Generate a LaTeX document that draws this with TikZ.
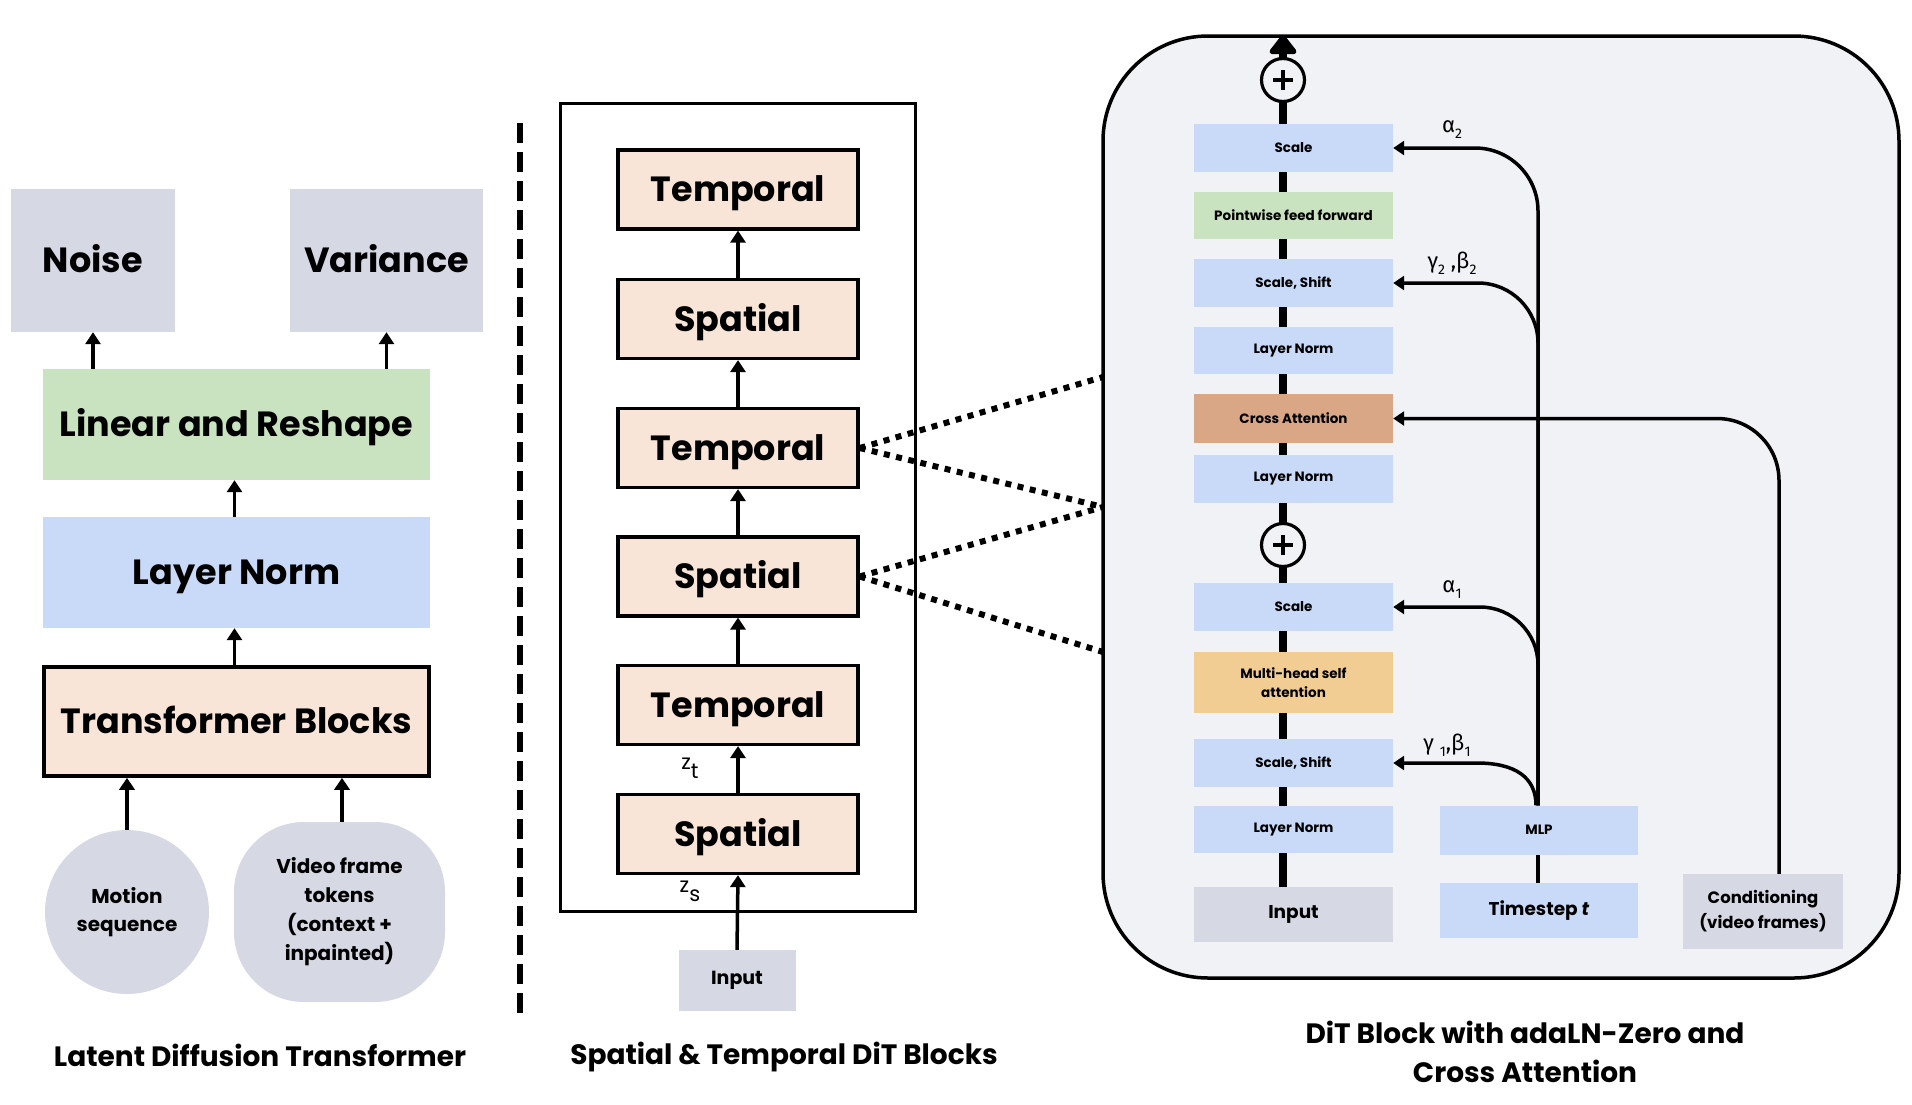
\documentclass[tikz,border=0pt]{standalone}
\usepackage{fontspec}
\setmainfont{Poppins}
\newfontfamily\grk{Fira Sans}
\usetikzlibrary{arrows.meta}
\definecolor{cgray}{HTML}{D6D8E4}
\definecolor{cgreen}{HTML}{C9E2C0}
\definecolor{cblue}{HTML}{C9DAF8}
\definecolor{cpeach}{HTML}{F8E5D8}
\definecolor{ccross}{HTML}{D9A686}
\definecolor{cmhsa}{HTML}{F2CD93}
\definecolor{cbg}{HTML}{F1F2F6}
\pgfdeclarelayer{bglayer}
\pgfdeclarelayer{linelayer}
\pgfsetlayers{bglayer,linelayer,main}
\newcommand{\fs}[1]{\fontsize{#1}{#1}\selectfont}
\tikzset{
  blk/.style={rectangle, inner sep=0pt, align=center, font=\bfseries},
  bigtxt/.style={font=\fontsize{35}{42}\selectfont\bfseries, text height=24.5pt, text depth=0pt},
  midblk/.style={blk, draw, line width=3.2pt, fill=cpeach, minimum width=240pt, minimum height=79pt, font=\fontsize{35}{42}\selectfont\bfseries, text height=24.5pt, text depth=0pt},
  rblk/.style={blk, minimum width=199pt, minimum height=48pt, font=\fontsize{13.5}{19}\selectfont\bfseries},
  arr/.style={-{Triangle[width=15pt,length=12pt]}, line width=3.5pt},
  fb/.style={-{Triangle[width=14pt,length=11pt]}, line width=3.5pt},
  dotline/.style={line width=6pt, dash pattern=on 6pt off 6.5pt},
  sepline/.style={line width=6pt, dash pattern=on 20pt off 9pt},
  ttl/.style={align=center, font=\fontsize{28}{39}\selectfont\bfseries},
  pluscirc/.style={circle, draw, line width=3.2pt, fill=cbg, minimum size=43pt, inner sep=0pt},
}
\begin{document}
\begin{tikzpicture}[x=1pt,y=-1pt]
\useasboundingbox (0,0) rectangle (1912,1104);

% ---------------- left panel
\node[blk, fill=cgray, minimum width=164pt, minimum height=143pt, bigtxt] (noise) at (93,260.5) {Noise};
\node[blk, fill=cgray, minimum width=193pt, minimum height=143pt, bigtxt] (var) at (386.5,260.5) {Variance};
\node[blk, fill=cgreen, minimum width=387pt, minimum height=111pt, bigtxt] (lr) at (236.5,424.5) {Linear and Reshape};
\node[blk, fill=cblue, minimum width=387pt, minimum height=111pt, bigtxt] (lnL) at (236.5,572.5) {Layer Norm};
\node[blk, draw, line width=3.5pt, fill=cpeach, minimum width=385pt, minimum height=109pt, bigtxt] (tb) at (236.5,721.5) {Transformer Blocks};
\node[circle, fill=cgray, minimum size=164pt, inner sep=0pt, align=center, font=\fontsize{20}{28}\selectfont\bfseries] (motion) at (127,912) {Motion\\sequence};
\node[rectangle, rounded corners=70pt, fill=cgray, minimum width=211pt, minimum height=180pt, inner sep=0pt, align=center, font=\fontsize{20}{29}\selectfont\bfseries] (video) at (339.5,912) {Video frame\\tokens\\(context +\\inpainted)};

\draw[arr] (noise.south |- lr.north) -- (noise.south);
\draw[arr] (var.south |- lr.north) -- (var.south);
\draw[arr] ([xshift=-2pt]lnL.north) -- ([xshift=-2pt]lr.south);
\draw[arr] ([xshift=-2pt]tb.north) -- ([xshift=-2pt]lnL.south);
\draw[arr] (motion.north) -- (motion.north |- tb.south);
\draw[arr] ([xshift=2.5pt]video.north) -- ([xshift=2.5pt]video.north |- tb.south);

\node[ttl] (t1) at (260,1055) {Latent Diffusion Transformer};

\draw[sepline] (520,123) -- (520,1017);

% ---------------- middle panel
\node[draw, line width=3pt, minimum width=355pt, minimum height=808pt, inner sep=0pt] (outer) at (737.5,507) {};
\node[midblk] (mt1) at (738,189.5) {Temporal};
\node[midblk] (ms1) at (738,319) {Spatial};
\node[midblk] (mt2) at (738,448) {Temporal};
\node[midblk] (ms2) at (738,576.5) {Spatial};
\node[midblk] (mt3) at (738,705) {Temporal};
\node[midblk] (ms3) at (738,834) {Spatial};
\node[blk, fill=cgray, minimum width=117pt, minimum height=61pt, font=\fontsize{19}{22}\selectfont\bfseries] (inM) at (737,980.5) {Input};

\draw[arr] (inM.north) -- (ms3.south);
\draw[arr] (ms3.north) -- (mt3.south);
\draw[arr] (mt3.north) -- (ms2.south);
\draw[arr] (ms2.north) -- (mt2.south);
\draw[arr] (mt2.north) -- (ms1.south);
\draw[arr] (ms1.north) -- (mt1.south);

\node[font=\fs{21}] (zt) at (690,768) {z\raisebox{-9pt}{t}};
\node[font=\fs{21}] (zs) at (690,891) {z\raisebox{-9pt}{s}};

\node[ttl] (t2) at (784,1057) {Spatial \& Temporal DiT Blocks};

% ---------------- right panel
\begin{pgfonlayer}{bglayer}
\node[draw, line width=3.5pt, fill=cbg, rounded corners=105pt, minimum width=796pt, minimum height=942pt, inner sep=0pt] (dit) at (1501,507) {};
\end{pgfonlayer}

\coordinate (d1) at (1103,377);
\coordinate (d2) at (1103,507);
\coordinate (d3) at (1103,652);
\begin{pgfonlayer}{linelayer}
\draw[dotline] (mt2.east) -- (d1);
\draw[dotline] (mt2.east) -- (d2);
\draw[dotline] (ms2.east) -- (d2);
\draw[dotline] (ms2.east) -- (d3);
\end{pgfonlayer}

\node[rblk, fill=cblue] (sc2) at (1293.5,148) {Scale};
\node[rblk, fill=cgreen, minimum height=47pt] (pff) at (1293.5,215.5) {Pointwise feed forward};
\node[rblk, fill=cblue] (ss2) at (1293.5,283) {Scale, Shift};
\node[rblk, fill=cblue, minimum height=47pt] (ln3) at (1293.5,350.5) {Layer Norm};
\node[rblk, fill=ccross, minimum height=49pt] (ca) at (1293.5,418.5) {Cross Attention};
\node[rblk, fill=cblue] (ln2) at (1293.5,479) {Layer Norm};
\node[pluscirc] (p1) at (1283,545) {};
\node[rblk, fill=cblue] (sc1) at (1293.5,607) {Scale};
\node[rblk, fill=cmhsa, minimum height=61pt] (mhsa) at (1293.5,682.5) {Multi-head self\\attention};
\node[rblk, fill=cblue] (ss1) at (1293.5,763) {Scale, Shift};
\node[rblk, fill=cblue, minimum height=47pt] (ln1) at (1293.5,829.5) {Layer Norm};
\node[rblk, fill=cgray, minimum height=55pt, font=\fontsize{18.5}{22}\selectfont\bfseries] (inR) at (1293.5,914.5) {Input};
\node[pluscirc] (p2) at (1283,80) {};
\coordinate (top) at (1283,35);

\node[rblk, fill=cblue, minimum width=198pt, minimum height=49pt] (mlp) at (1539,830) {MLP};
\node[rblk, fill=cblue, minimum width=198pt, minimum height=55pt, font=\fontsize{18.5}{22}\selectfont\bfseries] (ts) at (1539,910.5) {Timestep \textit{t}};
\node[rblk, fill=cgray, minimum width=160pt, minimum height=75pt, font=\fontsize{16.5}{25}\selectfont\bfseries] (cond) at (1763,911.5) {Conditioning\\(video frames)};

\foreach \p in {p1,p2} {
  \draw[line width=3.5pt] ([xshift=-10pt]\p.center) -- ([xshift=10pt]\p.center);
  \draw[line width=3.5pt] ([yshift=-10pt]\p.center) -- ([yshift=10pt]\p.center);
}

\begin{pgfonlayer}{linelayer}
\draw[line width=8pt, -{Triangle[width=31pt,length=21pt, round]}] ([xshift=-10.5pt]inR.north) -- (top);
\draw[fb, rounded corners=63pt] ([xshift=-1pt]mlp.north) |- (sc2.east);
\draw[fb, rounded corners=60pt] ([xshift=-1pt]mlp.north) |- (ss2.east);
\draw[fb, rounded corners=58pt] ([xshift=-1pt]mlp.north) |- (sc1.east);
\draw[fb] ([xshift=-3pt]mlp.north) .. controls +(0,-28) and +(38,0) .. (1477,763) -- (ss1.east);
\draw[fb, rounded corners=62pt] ([xshift=16pt]cond.north) |- (ca.east);
\draw[line width=4pt] ([xshift=-1pt]ts.north) -- ([xshift=-1pt]mlp.south);
\end{pgfonlayer}

\node[font=\grk\fs{22}] (la2) at (1452,130) {α\raisebox{-6pt}{\fs{14}2}};
\node[font=\grk\fs{22}] (lg2) at (1452,263) {γ\raisebox{-6pt}{\fs{14}2} ,β\raisebox{-6pt}{\fs{14}2}};
\node[font=\grk\fs{22}] (la1) at (1452,590) {α\raisebox{-6pt}{\fs{14}1}};
\node[font=\grk\fs{22}] (lg1) at (1447,745) {γ \raisebox{-6pt}{\fs{14}1},β\raisebox{-6pt}{\fs{14}1}};

\node[ttl] (t3) at (1525,1052) {DiT Block with adaLN-Zero and\\Cross Attention};
\end{tikzpicture}
\end{document}
